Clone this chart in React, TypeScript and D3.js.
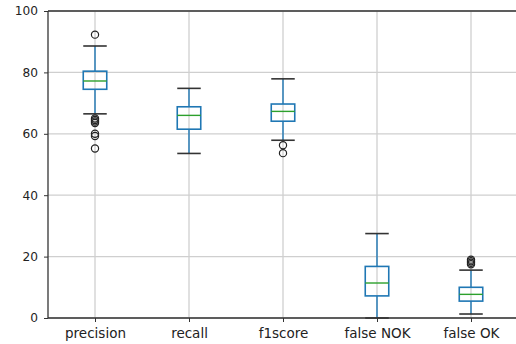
import { useEffect, useRef } from "react";
import * as d3 from "d3";

// categories and box statistics
const categories = ["precision", "recall", "f1score", "false NOK", "false OK"];
const whiskerLow = [66.5, 53.6, 57.9, 0.0, 1.3];
const q1 = [74.5, 61.5, 64.1, 7.2, 5.5];
const medians = [77.2, 66.0, 67.3, 11.4, 7.7];
const q3 = [80.4, 68.8, 69.7, 16.8, 10.0];
const whiskerHigh = [88.6, 74.8, 77.9, 27.5, 15.6];
const outliers = [
	[92.3, 65.0, 64.5, 64.0, 63.5, 60.0, 59.3, 55.2],
	[],
	[56.3, 53.7],
	[],
	[19.0, 18.5, 18.0, 17.5],
];
const yTicks = [0, 20, 40, 60, 80, 100];

const App = () => {
	const svgRef = useRef<SVGSVGElement | null>(null);

	useEffect(() => {
		const width = 516;
		const height = 344;
		const left = 48;
		const top = 11;
		const bottom = 318;

		const svg = d3.select(svgRef.current).attr("width", width).attr("height", height);
		svg.selectAll("*").remove();

		const x = d3.scaleLinear().domain([0.5, 5.5]).range([left, 518]);
		const y = d3.scaleLinear().domain([0, 100]).range([bottom, top]);
		const boxW = x(1.25) - x(1);
		const capW = x(1.125) - x(1);

		// grid
		svg
			.append("g")
			.selectAll("line.gy")
			.data(yTicks)
			.join("line")
			.attr("x1", left)
			.attr("x2", width)
			.attr("y1", (d) => y(d))
			.attr("y2", (d) => y(d))
			.attr("stroke", "#cfcfcf")
			.attr("stroke-width", 1.3);
		svg
			.append("g")
			.selectAll("line.gx")
			.data(categories)
			.join("line")
			.attr("x1", (_, i) => x(i + 1))
			.attr("x2", (_, i) => x(i + 1))
			.attr("y1", top)
			.attr("y2", bottom)
			.attr("stroke", "#cfcfcf")
			.attr("stroke-width", 1.3);

		// boxes
		const g = svg
			.append("g")
			.selectAll("g.box")
			.data(categories)
			.join("g")
			.attr("transform", (_, i) => `translate(${x(i + 1)},0)`);

		g.append("line")
			.attr("y1", (_, i) => y(q3[i]))
			.attr("y2", (_, i) => y(whiskerHigh[i]))
			.attr("stroke", "#1f77b4")
			.attr("stroke-width", 1.4);
		g.append("line")
			.attr("y1", (_, i) => y(q1[i]))
			.attr("y2", (_, i) => y(whiskerLow[i]))
			.attr("stroke", "#1f77b4")
			.attr("stroke-width", 1.4);
		g.append("line")
			.attr("x1", -capW)
			.attr("x2", capW)
			.attr("y1", (_, i) => y(whiskerHigh[i]))
			.attr("y2", (_, i) => y(whiskerHigh[i]))
			.attr("stroke", "#333")
			.attr("stroke-width", 1.6);
		g.append("line")
			.attr("x1", -capW)
			.attr("x2", capW)
			.attr("y1", (_, i) => y(whiskerLow[i]))
			.attr("y2", (_, i) => y(whiskerLow[i]))
			.attr("stroke", "#333")
			.attr("stroke-width", 1.6);
		g.append("rect")
			.attr("x", -boxW / 2)
			.attr("width", boxW)
			.attr("y", (_, i) => y(q3[i]))
			.attr("height", (_, i) => y(q1[i]) - y(q3[i]))
			.attr("fill", "none")
			.attr("stroke", "#1f77b4")
			.attr("stroke-width", 1.6);
		g.append("line")
			.attr("x1", -boxW / 2)
			.attr("x2", boxW / 2)
			.attr("y1", (_, i) => y(medians[i]))
			.attr("y2", (_, i) => y(medians[i]))
			.attr("stroke", "#2ca02c")
			.attr("stroke-width", 1.4);
		g.selectAll("circle")
			.data((_, i) => outliers[i])
			.join("circle")
			.attr("cy", (d) => y(d))
			.attr("r", 3.6)
			.attr("fill", "none")
			.attr("stroke", "#222")
			.attr("stroke-width", 1.2);

		// axes
		const yAxis = svg
			.append("g")
			.attr("transform", `translate(${left},0)`)
			.call(d3.axisLeft(y).tickValues(yTicks).tickSize(4).tickPadding(6));
		const xAxis = svg
			.append("g")
			.attr("transform", `translate(0,${bottom})`)
			.call(
				d3
					.axisBottom(x)
					.tickValues([1, 2, 3, 4, 5])
					.tickFormat((d) => categories[+d - 1])
					.tickSize(4)
					.tickPadding(6)
			);
		[yAxis, xAxis].forEach((a) => {
			a.select(".domain").remove();
			a.selectAll("line").attr("stroke", "#333");
			a.selectAll("text").attr("fill", "#222").attr("font-family", "DejaVu Sans");
		});
		yAxis.selectAll("text").attr("font-size", 12.2);
		xAxis.selectAll("text").attr("font-size", 13.5);

		// spines
		svg
			.append("line")
			.attr("x1", left)
			.attr("x2", left)
			.attr("y1", top)
			.attr("y2", bottom)
			.attr("stroke", "#333")
			.attr("stroke-width", 1.3);
		svg
			.append("line")
			.attr("x1", left)
			.attr("x2", width)
			.attr("y1", top)
			.attr("y2", top)
			.attr("stroke", "#333")
			.attr("stroke-width", 1.3);
		svg
			.append("line")
			.attr("x1", left)
			.attr("x2", width)
			.attr("y1", bottom)
			.attr("y2", bottom)
			.attr("stroke", "#333")
			.attr("stroke-width", 1.3);
	}, []);

	return (
		<div style={{ position: "absolute", left: 0, top: 0, background: "#fff" }}>
			<svg ref={svgRef} style={{ display: "block" }}></svg>
		</div>
	);
};

export default App;
